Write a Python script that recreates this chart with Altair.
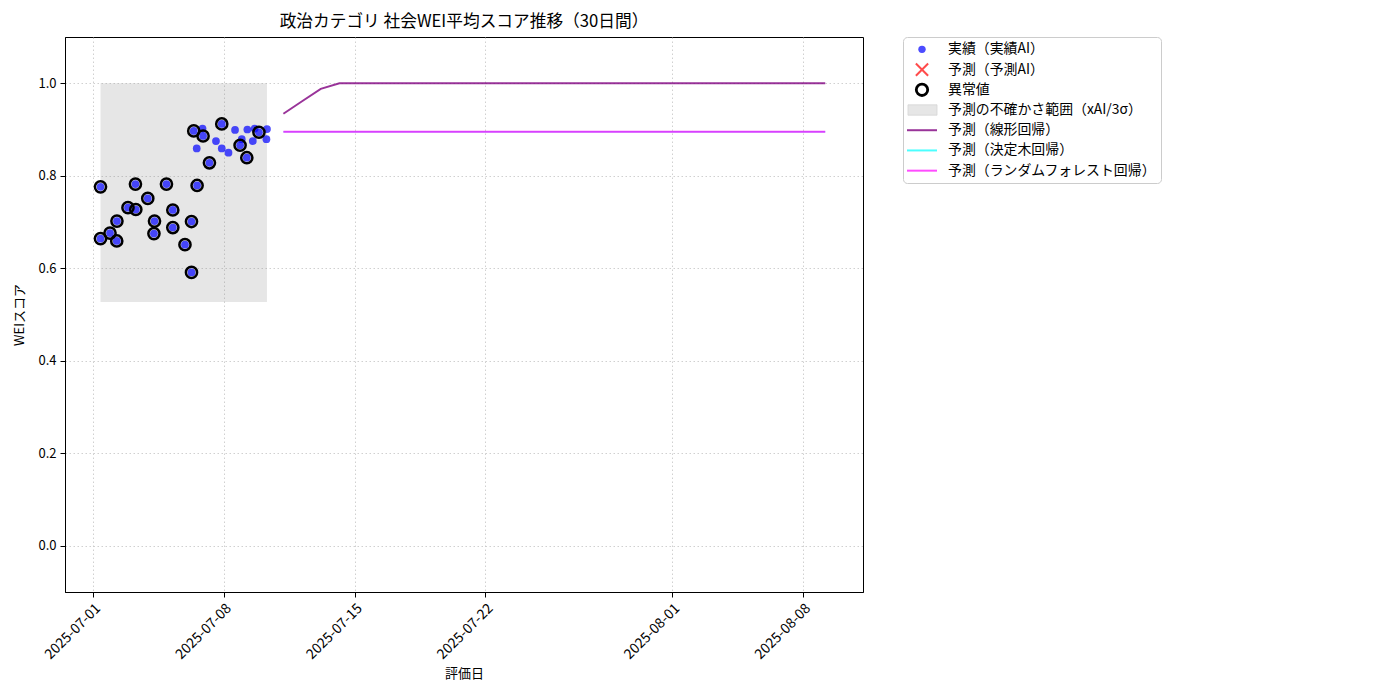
import altair as alt
import pandas as pd

FONT = "Noto Sans CJK JP"

# ---- actual observations (実績) ----
act_dates = [
    "2025-07-01T09:36", "2025-07-01T09:36", "2025-07-01T21:50", "2025-07-02T06:43",
    "2025-07-02T06:29", "2025-07-02T20:53", "2025-07-03T06:29", "2025-07-03T06:58",
    "2025-07-03T22:19", "2025-07-04T06:14", "2025-07-04T06:58", "2025-07-04T22:19",
    "2025-07-05T06:29", "2025-07-05T06:29", "2025-07-05T22:05", "2025-07-06T06:29",
    "2025-07-06T06:29", "2025-07-06T13:41", "2025-07-06T09:22", "2025-07-06T13:12",
    "2025-07-06T20:38", "2025-07-06T21:22", "2025-07-07T05:31", "2025-07-07T13:55",
    "2025-07-07T21:22", "2025-07-07T21:22", "2025-07-08T06:00", "2025-07-08T14:24",
    "2025-07-08T20:53", "2025-07-08T23:02", "2025-07-09T05:31", "2025-07-09T06:14",
    "2025-07-09T13:12", "2025-07-09T15:36", "2025-07-09T21:07", "2025-07-10T06:43",
    "2025-07-10T07:26",
]
act_values = [
    0.776, 0.664, 0.676, 0.702,
    0.659, 0.731, 0.782, 0.727,
    0.751, 0.675, 0.702, 0.782,
    0.726, 0.688, 0.651, 0.701,
    0.591, 0.779, 0.897, 0.859,
    0.902, 0.886, 0.828, 0.875,
    0.912, 0.859, 0.850, 0.899,
    0.866, 0.879, 0.839, 0.900,
    0.875, 0.902, 0.894, 0.879,
    0.901,
]
act_outlier = [
    1, 1, 1, 1,
    1, 1, 1, 1,
    1, 1, 1, 1,
    1, 1, 1, 1,
    1, 1, 1, 0,
    0, 1, 1, 0,
    1, 0, 0, 0,
    1, 0, 1, 0,
    0, 0, 1, 0,
    0,
]

# ---- uncertainty band (xAI/3σ) ----
band_start = ["2025-07-01T09:36"]
band_end = ["2025-07-10T07:26"]
band_low = [0.527]
band_high = [1.0]

# ---- predictions ----
pred_dates = [
    "2025-07-11T04:30", "2025-07-12T04:30", "2025-07-13T04:30", "2025-07-14T04:30",
    "2025-07-15T04:30", "2025-07-16T04:30", "2025-07-17T04:30", "2025-07-18T04:30",
    "2025-07-19T04:30", "2025-07-20T04:30", "2025-07-21T04:30", "2025-07-22T04:30",
    "2025-07-23T04:30", "2025-07-24T04:30", "2025-07-25T04:30", "2025-07-26T04:30",
    "2025-07-27T04:30", "2025-07-28T04:30", "2025-07-29T04:30", "2025-07-30T04:30",
    "2025-07-31T04:30", "2025-08-01T04:30", "2025-08-02T04:30", "2025-08-03T04:30",
    "2025-08-04T04:30", "2025-08-05T04:30", "2025-08-06T04:30", "2025-08-07T04:30",
    "2025-08-08T04:30", "2025-08-09T04:30",
]
pred_linear = [
    0.934, 0.961, 0.988, 1.0, 1.0, 1.0, 1.0, 1.0, 1.0, 1.0,
    1.0, 1.0, 1.0, 1.0, 1.0, 1.0, 1.0, 1.0, 1.0, 1.0,
    1.0, 1.0, 1.0, 1.0, 1.0, 1.0, 1.0, 1.0, 1.0, 1.0,
]
pred_tree = [
    0.895, 0.895, 0.895, 0.895, 0.895, 0.895, 0.895, 0.895, 0.895, 0.895,
    0.895, 0.895, 0.895, 0.895, 0.895, 0.895, 0.895, 0.895, 0.895, 0.895,
    0.895, 0.895, 0.895, 0.895, 0.895, 0.895, 0.895, 0.895, 0.895, 0.895,
]
pred_forest = [
    0.895, 0.895, 0.895, 0.895, 0.895, 0.895, 0.895, 0.895, 0.895, 0.895,
    0.895, 0.895, 0.895, 0.895, 0.895, 0.895, 0.895, 0.895, 0.895, 0.895,
    0.895, 0.895, 0.895, 0.895, 0.895, 0.895, 0.895, 0.895, 0.895, 0.895,
]

# ---- legend labels ----
legend_labels = [
    "実績（実績AI）",
    "予測（予測AI）",
    "異常値",
    "予測の不確かさ範囲（xAI/3σ）",
    "予測（線形回帰）",
    "予測（決定木回帰）",
    "予測（ランダムフォレスト回帰）",
]

x_ticks = [(2025, 7, 1), (2025, 7, 8), (2025, 7, 15), (2025, 7, 22), (2025, 8, 1), (2025, 8, 8)]
y_ticks = [0.0, 0.2, 0.4, 0.6, 0.8, 1.0]

title_text = "政治カテゴリ 社会WEI平均スコア推移（30日間）"

# ---------------- build ----------------
act_df = pd.DataFrame({"date": act_dates, "value": act_values, "outlier": act_outlier})
out_df = act_df[act_df["outlier"] == 1]
band_df = pd.DataFrame({"start": band_start, "end": band_end, "low": band_low, "high": band_high})
pred_df = pd.DataFrame({"date": pred_dates, "linear": pred_linear, "tree": pred_tree, "forest": pred_forest})

x_scale = alt.Scale(domain=[alt.DateTime(year=2025, month=6, date=29, hours=12),
                            alt.DateTime(year=2025, month=8, date=11, hours=5)])
y_scale = alt.Scale(domain=[-0.1, 1.1], nice=False, zero=False)

x_axis = alt.Axis(
    values=[alt.DateTime(year=y, month=m, date=d) for (y, m, d) in x_ticks],
    format="%Y-%m-%d", labelAngle=-45, labelAlign="right", labelBaseline="top",
    labelFontSize=14, title="評価日", grid=True,
)
y_axis = alt.Axis(values=y_ticks, format=".1f", title="WEIスコア", grid=True)

X = alt.X("date:T", scale=x_scale, axis=x_axis)
Y = alt.Y("value:Q", scale=y_scale, axis=y_axis)

band = alt.Chart(band_df).mark_rect(color="gray", opacity=0.2).encode(
    x=alt.X("start:T", scale=x_scale, axis=x_axis),
    x2="end:T",
    y=alt.Y("low:Q", scale=y_scale, axis=y_axis),
    y2="high:Q",
)

lin = alt.Chart(pred_df).mark_line(color="purple", opacity=0.8, strokeWidth=2).encode(
    x=X, y=alt.Y("linear:Q", scale=y_scale, axis=y_axis))
tree = alt.Chart(pred_df).mark_line(color="cyan", opacity=0.6, strokeWidth=1.5).encode(
    x=X, y=alt.Y("tree:Q", scale=y_scale, axis=y_axis))
forest = alt.Chart(pred_df).mark_line(color="magenta", opacity=0.75, strokeWidth=2).encode(
    x=X, y=alt.Y("forest:Q", scale=y_scale, axis=y_axis))

pts = alt.Chart(act_df).mark_circle(color="blue", opacity=0.7, size=60).encode(x=X, y=Y)
outs = alt.Chart(out_df).mark_point(filled=False, color="black", strokeWidth=2.5, size=125,
                                    opacity=1).encode(x=X, y=Y)

main = alt.layer(band, lin, tree, forest, pts, outs).properties(
    width=798, height=555,
    title=alt.TitleParams(title_text, fontSize=16.7, font=FONT, fontWeight="normal", offset=6),
    view=alt.ViewBackground(stroke="black", strokeWidth=1),
)

# ---------------- legend panel ----------------
leg_df = pd.DataFrame({"label": legend_labels})
LY = alt.Y("label:N", sort=legend_labels, scale=alt.Scale(type="point", padding=0.61), axis=None)

def leg(i):
    return alt.Chart(leg_df.iloc[[i]])

l_blue = leg(0).mark_circle(color="blue", opacity=0.7, size=55).encode(x=alt.value(19), y=LY)
l_x = leg(1).mark_point(shape="M-1,-1L1,1M-1,1L1,-1", filled=False, color="red", opacity=0.7,
                        strokeWidth=2, size=150).encode(x=alt.value(19), y=LY)
l_out = leg(2).mark_point(filled=False, color="black", strokeWidth=2.8, size=130,
                          opacity=1).encode(x=alt.value(19), y=LY)
l_band = leg(3).mark_point(shape="M-1.4,-0.5L1.4,-0.5L1.4,0.5L-1.4,0.5Z", filled=True,
                           fill="#e6e6e6", stroke="#d6d6d6", strokeWidth=0.8, opacity=1,
                           size=430).encode(x=alt.value(19.5), y=LY)
l_lin = leg(4).mark_rule(color="purple", opacity=0.8, strokeWidth=2).encode(
    x=alt.value(4), x2=alt.value(34), y=LY)
l_tree = leg(5).mark_rule(color="cyan", opacity=0.7, strokeWidth=2).encode(
    x=alt.value(4), x2=alt.value(34), y=LY)
l_forest = leg(6).mark_rule(color="magenta", opacity=0.7, strokeWidth=2).encode(
    x=alt.value(4), x2=alt.value(34), y=LY)
l_text = alt.Chart(leg_df).mark_text(align="left", baseline="middle", fontSize=13.9,
                                     font=FONT, color="black").encode(
    x=alt.value(45), y=LY, text="label:N")

legend = alt.layer(l_blue, l_x, l_out, l_band, l_lin, l_tree, l_forest, l_text).properties(
    width=258, height=146,
    view=alt.ViewBackground(stroke="#cccccc", strokeWidth=1, cornerRadius=4),
)

chart = alt.hconcat(main, legend, spacing=40, bounds="flush").configure_axis(
    labelFont=FONT, titleFont=FONT, labelFontSize=13, titleFontSize=13,
    titleFontWeight="normal", labelColor="black", titleColor="black",
    tickColor="black", domainColor="black", tickSize=5, labelPadding=4,
    gridColor="#c4c4c4", gridDash=[1.5, 2.5], gridWidth=0.8,
).configure_axisX(titlePadding=6).configure_axisY(titlePadding=11).configure_view(
    stroke="black"
).configure_title(font=FONT, color="black")

chart.save("out.html", embed_options={"renderer": "svg", "actions": False})
